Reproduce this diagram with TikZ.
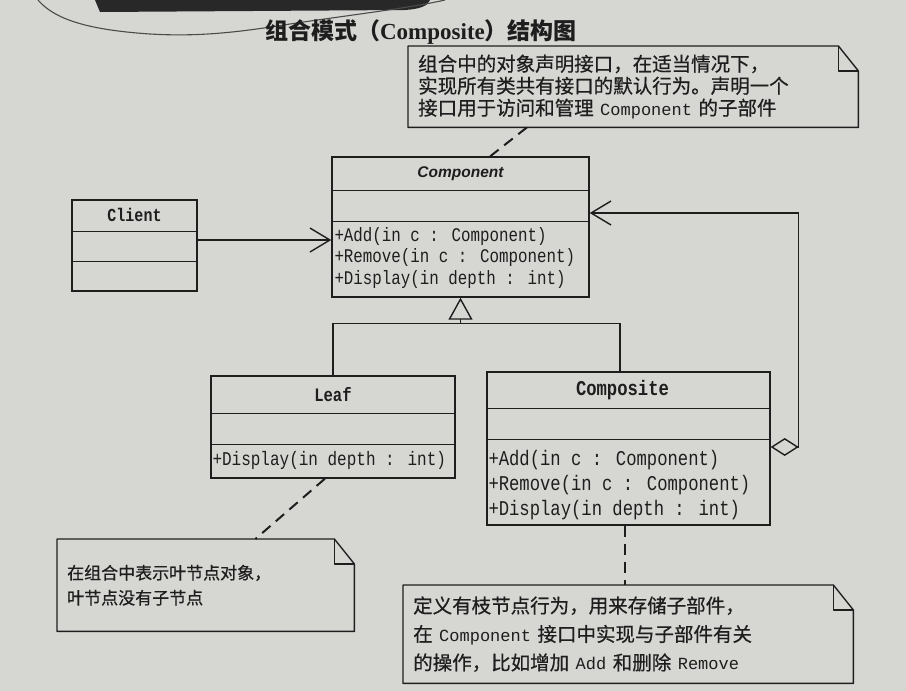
\documentclass[tikz,border=0pt]{standalone}
\usepackage{fontspec}
\usetikzlibrary{arrows.meta,calc}

% Fonts: CJK text, condensed monospace for UML members, plain mono for code words in notes
\newfontfamily\cjk{Noto Sans CJK SC}
\newfontfamily\cjknote[FakeBold=0.6]{Noto Sans CJK SC}
\newfontfamily\umlmono[FakeStretch=0.82]{Liberation Mono}
\newfontfamily\notemono{Liberation Mono}
\newfontfamily\titleserif{Liberation Serif}
\newfontfamily\umlsans{Liberation Sans}
\newcommand\notecode[1]{{\notemono\fontsize{17}{22}\selectfont#1}}

\definecolor{paper}{RGB}{214,214,211}
\definecolor{ink}{RGB}{30,30,30}
\definecolor{bandink}{RGB}{40,40,40}

\begin{document}
\begin{tikzpicture}[x=1pt,y=-1pt,
  umlline/.style={draw=ink,line width=1.4pt},
  classbox/.style={umlline,rectangle,inner sep=0pt},
  classname/.style={inner sep=0pt,text=ink},
  member/.style={inner sep=0pt,anchor=west,text=ink,font=\umlmono\fontsize{#1}{#1}\selectfont},
  notebox/.style={rectangle,anchor=north west,inner xsep=10pt,inner ysep=0pt,align=left,text=ink},
  notelink/.style={draw=ink,line width=2pt,dash pattern=on 11pt off 7pt},
  assoc/.style={umlline,-{Straight Barb[length=20pt,width=24pt]}},
  general/.style={umlline,-{Triangle[open,length=22pt,width=24pt]}},
  aggreg/.style={umlline,{Diamond[open,length=28pt,width=18pt]}-{Straight Barb[length=20pt,width=24pt]}},
  cloudline/.style={draw=ink!80,line width=1.1pt}
]
\useasboundingbox (0,0) rectangle (906,691);
\fill[paper] (0,0) rectangle (906,691);

% heading banner remnant at the top
\fill[bandink] (95,0) -- (430,0) .. controls (428,6) and (420,9) .. (405,10) -- (100,12) -- cycle;
\draw[cloudline] (38,0) .. controls (55,20) and (90,30) .. (150,34)
  .. controls (200,37) and (240,32) .. (290,24)
  .. controls (350,15) and (410,8) .. (445,0);

% title
\node[inner sep=0pt,text=ink] (title) at (421,32)
  {{\cjk\bfseries\fontsize{23}{26}\selectfont 组合模式（}{\titleserif\bfseries\fontsize{23}{26}\selectfont Composite}{\cjk\bfseries\fontsize{23}{26}\selectfont ）结构图}};

% ---- classes ----
\node[classbox,minimum width=257pt,minimum height=140pt] (component) at (460.5,227) {};
\node[classbox,minimum width=125pt,minimum height=91pt] (client) at (134.5,245.5) {};
\node[classbox,minimum width=244pt,minimum height=102pt] (leaf) at (333,427) {};
\node[classbox,minimum width=283pt,minimum height=153pt] (composite) at (628.5,448.5) {};

% compartments
\draw[umlline] ([yshift=-34pt]component.north west) -- ([yshift=-34pt]component.north east);
\draw[umlline] ([yshift=-65pt]component.north west) -- ([yshift=-65pt]component.north east);
\draw[umlline] ([yshift=-32pt]client.north west) -- ([yshift=-32pt]client.north east);
\draw[umlline] ([yshift=-62pt]client.north west) -- ([yshift=-62pt]client.north east);
\draw[umlline] ([yshift=-38pt]leaf.north west) -- ([yshift=-38pt]leaf.north east);
\draw[umlline] ([yshift=-69pt]leaf.north west) -- ([yshift=-69pt]leaf.north east);
\draw[umlline] ([yshift=-37pt]composite.north west) -- ([yshift=-37pt]composite.north east);
\draw[umlline] ([yshift=-68pt]composite.north west) -- ([yshift=-68pt]composite.north east);

% class names
\node[classname,font=\umlsans\bfseries\itshape\fontsize{15.5}{18}\selectfont] (componentname) at ($(component.north)+(0,17)$) {Component};
\node[classname,font=\umlmono\bfseries\fontsize{18.3}{20}\selectfont] (clientname) at ($(client.north)+(0,16)$) {Client};
\node[classname,font=\umlmono\bfseries\fontsize{19}{20}\selectfont] (leafname) at ($(leaf.north)+(0,19)$) {Leaf};
\node[classname,font=\umlmono\bfseries\fontsize{21}{22}\selectfont] (compositename) at ($(composite.north)+(-6,19)$) {Composite};

% operations
\node[member=19.3] (cpadd) at ($(component.north west)+(3,80)$) {+Add(in c : Component)};
\node[member=19.3] (cpremove) at ($(component.north west)+(3,101)$) {+Remove(in c : Component)};
\node[member=19.3] (cpdisplay) at ($(component.north west)+(3,123)$) {+Display(in depth : int)};
\node[member=19.5] (lfdisplay) at ($(leaf.north west)+(2,85)$) {+Display(in depth : int)};
\node[member=21] (csadd) at ($(composite.north west)+(2,89)$) {+Add(in c : Component)};
\node[member=21] (csremove) at ($(composite.north west)+(2,114)$) {+Remove(in c : Component)};
\node[member=21] (csdisplay) at ($(composite.north west)+(2,139)$) {+Display(in depth : int)};

% ---- relationships ----
\draw[assoc] ([yshift=5.5pt]client.east) -- ([yshift=5.5pt]client.east -| component.west);
\coordinate (genjoin) at ([yshift=-26pt]component.south);
\draw[umlline] (leaf.north) |- (genjoin) -| ([xshift=-8.5pt]composite.north);
\draw[general] (genjoin) -- (component.south);
\draw[aggreg] ([yshift=1.5pt]composite.east) -- ++(28,0) |- ([yshift=14pt]component.east);

% ---- notes ----
\node[notebox,minimum width=450pt,minimum height=81pt,text width=430pt,
      font=\cjknote\fontsize{19.5}{22}\selectfont] (note1) at (408,46)
  {组合中的对象声明接口，在适当情况下，\\实现所有类共有接口的默认行为。声明一个\\接口用于访问和管理\notecode{ Component }的子部件};
\node[notebox,minimum width=297pt,minimum height=92pt,text width=277pt,
      font=\cjknote\fontsize{17}{25}\selectfont] (note2) at (57,539)
  {在组合中表示叶节点对象，\\叶节点没有子节点};
\node[notebox,minimum width=450pt,minimum height=98pt,text width=430pt,
      font=\cjknote\fontsize{19.5}{28.5}\selectfont] (note3) at (403,585)
  {定义有枝节点行为，用来存储子部件，\\在\notecode{ Component }接口中实现与子部件有关\\的操作，比如增加\notecode{ Add }和删除\notecode{ Remove}};

% note outlines with a folded corner
\foreach \n in {note1,note2,note3}{
  \draw[umlline,line join=round] (\n.north west) -- ([xshift=-20pt]\n.north east) -- ([yshift=-25pt]\n.north east)
    -- (\n.south east) -- (\n.south west) -- cycle;
  \draw[umlline,line join=round] ([xshift=-20pt]\n.north east) -- ([xshift=-20pt,yshift=-25pt]\n.north east)
    -- ([yshift=-25pt]\n.north east);
}

% note attachments
\draw[notelink] ($(note1.south west)!0.264!(note1.south east)$) -- ($(component.north west)!0.615!(component.north east)$);
\draw[notelink] ($(leaf.south west)!0.467!(leaf.south east)$) -- ($(note2.north west)!0.667!(note2.north east)$);
\draw[notelink] ($(composite.south west)!0.488!(composite.south east)$) coordinate (cslink) -- (cslink |- note3.north);
\end{tikzpicture}
\end{document}
